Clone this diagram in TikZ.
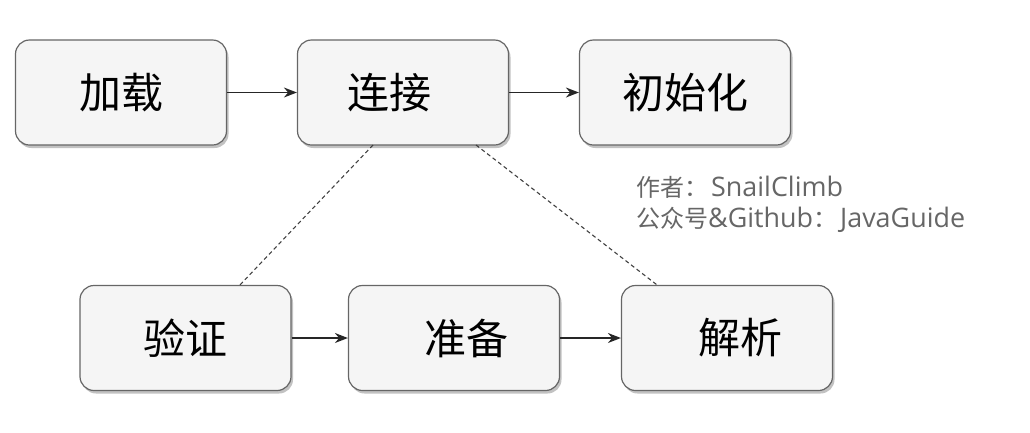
\documentclass[tikz,border=0pt]{standalone}
\usepackage{fontspec}
\setmainfont{Noto Sans CJK SC}
\newfontfamily\latinf{Open Sans}[Scale=1.12]
\usetikzlibrary{shadows,arrows.meta}
\begin{document}
\begin{tikzpicture}[x=1pt,y=-1pt,
  stage/.style={draw=black!60,line width=1.2pt,fill=black!4,rounded corners=14pt,
    minimum width=211pt,minimum height=105pt,inner sep=0pt,font=\fontsize{42}{44}\selectfont,
    drop shadow={shadow xshift=2pt,shadow yshift=-3pt,fill=black!40,opacity=0.6}},
  flow/.style={draw=black!85,line width=1.4pt,-{Stealth[length=13pt,width=10pt]}},
  link/.style={draw=black!75,line width=1.1pt,dash pattern=on 4pt off 3pt},
  note/.style={font=\fontsize{24}{26}\selectfont,text=black!60,anchor=west,inner sep=0pt}]
\useasboundingbox (0,0) rectangle (1030,432);
\node[stage] (load) at (121,92.5) {加载};
\node[stage] (link) at (403,92.5) {\hspace*{-28pt}连接};
\node[stage] (init) at (685,92.5) {初始化};
\node[stage] (verify) at (185.5,338) {验证};
\node[stage] (prep) at (454,338) {\hspace*{24pt}准备};
\node[stage] (parse) at (727,338) {\hspace*{26pt}解析};
\draw[flow] (load) -- (link);
\draw[flow] (link) -- (init);
\draw[flow] (verify) -- (prep);
\draw[flow] (prep) -- (parse);
\coordinate (la) at (373,145);
\coordinate (lb) at (476,145);
\draw[link] (la) -- (verify.north -| 240,0);
\draw[link] (lb) -- (parse.north -| 657,0);
\node[note] (author) at (636,187) {作者：\hspace{3pt}{\latinf SnailClimb}};
\node[note] (pub) at (636,220) {公众号{\latinf\&Github}：\hspace{3pt}{\latinf JavaGuide}};
\end{tikzpicture}
\end{document}
